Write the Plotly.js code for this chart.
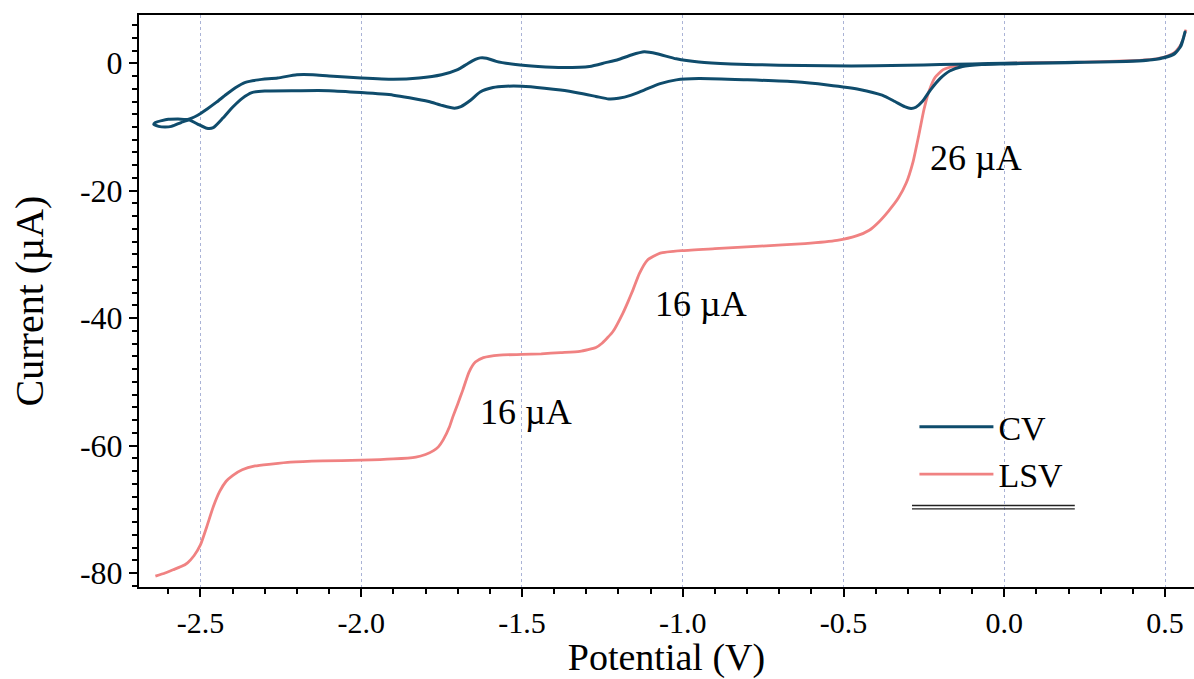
<!DOCTYPE html>
<html>
<head>
<meta charset="utf-8">
<script src="https://cdn.plot.ly/plotly-3.0.1.min.js"></script>
<style>html,body{margin:0;padding:0;background:#fff;}#chart{width:1194px;height:679px;}</style>
</head>
<body>
<div id="chart"></div>
<script>
// CV loop (cathodic sweep right->left, then anodic return left->right)
const cvPotential = [
  0.562,0.555,0.545,0.53,0.51,0.48,0.44,0.38,0.30,0.20,0.10,0.00,-0.07,-0.13,-0.17,-0.20,-0.23,-0.255,-0.275,-0.29,
  -0.31,-0.34,-0.38,-0.45,-0.55,-0.65,-0.80,-0.95,-1.02,-1.07,-1.12,-1.16,-1.20,-1.23,-1.27,-1.32,-1.38,-1.43,-1.50,-1.55,
  -1.59,-1.63,-1.66,-1.69,-1.71,-1.75,-1.79,-1.85,-1.90,-2.00,-2.10,-2.20,-2.30,-2.34,-2.37,-2.40,-2.43,-2.46,-2.48,-2.51,
  -2.535,-2.56,-2.59,-2.61,-2.63,-2.645,
  -2.64,-2.62,-2.60,-2.57,-2.54,-2.51,-2.48,-2.45,-2.42,-2.39,-2.36,-2.32,-2.26,-2.20,-2.15,-2.10,-2.00,-1.90,-1.82,-1.75,
  -1.70,-1.67,-1.645,-1.63,-1.61,-1.58,-1.52,-1.45,-1.37,-1.29,-1.24,-1.20,-1.16,-1.12,-1.08,-1.02,-0.95,-0.85,-0.70,-0.55,
  -0.40,-0.30,-0.20,-0.10,0.00,0.15,0.30,0.40,0.46,0.50,0.53,0.55,0.562
];
const cvCurrent = [
  4.9,3.6,2.4,1.6,1.1,0.7,0.45,0.3,0.2,0.1,0.0,-0.1,-0.2,-0.5,-1.2,-2.4,-4.2,-6.0,-6.9,-7.1,
  -6.8,-6.0,-5.0,-4.1,-3.4,-2.9,-2.6,-2.4,-2.6,-3.2,-4.2,-5.0,-5.5,-5.6,-5.2,-4.7,-4.2,-3.9,-3.6,-3.6,
  -3.8,-4.5,-5.8,-6.8,-7.05,-6.6,-6.0,-5.4,-5.0,-4.6,-4.3,-4.3,-4.35,-4.6,-5.5,-6.9,-8.6,-10.1,-10.2,-9.5,
  -8.9,-9.3,-9.9,-10.0,-9.9,-9.6,
  -9.3,-9.0,-8.8,-8.75,-8.8,-8.2,-7.2,-6.1,-4.9,-3.8,-3.0,-2.6,-2.3,-1.8,-1.8,-2.0,-2.3,-2.5,-2.3,-1.8,
  -1.0,-0.1,0.6,0.85,0.8,0.3,-0.2,-0.5,-0.65,-0.5,0.1,0.6,1.3,1.8,1.5,0.7,0.2,-0.1,-0.3,-0.4,
  -0.4,-0.3,-0.2,-0.1,0.0,0.1,0.2,0.35,0.55,0.9,1.5,2.8,4.9
];
// LSV
const lsvPotential = [
  -2.64,-2.61,-2.585,-2.56,-2.54,-2.52,-2.50,-2.48,-2.46,-2.44,-2.42,-2.40,-2.37,-2.33,-2.28,-2.22,-2.12,-2.00,-1.90,-1.83,
  -1.80,-1.775,-1.76,-1.745,-1.725,-1.715,-1.70,-1.684,-1.665,-1.645,-1.62,-1.57,-1.50,-1.44,-1.38,-1.32,-1.27,-1.25,-1.217,-1.186,
  -1.17,-1.155,-1.135,-1.11,-1.07,-1.00,-0.90,-0.76,-0.62,-0.52,-0.46,-0.42,-0.39,-0.36,-0.33,-0.305,-0.284,-0.264,-0.25,-0.235,
  -0.215,-0.19,-0.15,-0.10,0.00,0.10,0.20,0.30,0.40,0.46,0.50,0.53,0.55,0.565
];
const lsvCurrent = [
  -80.5,-80.0,-79.5,-79.0,-78.4,-77.3,-75.6,-72.7,-69.6,-67.2,-65.6,-64.7,-63.8,-63.2,-62.9,-62.6,-62.4,-62.3,-62.1,-61.8,
  -61.4,-60.8,-60.2,-59.1,-57.0,-55.5,-53.5,-51.3,-48.5,-46.9,-46.2,-45.8,-45.7,-45.6,-45.4,-45.2,-44.6,-43.9,-42.1,-39.2,
  -37.4,-35.6,-33.0,-30.9,-29.8,-29.4,-29.1,-28.7,-28.3,-27.8,-27.1,-26.2,-24.9,-23.2,-21.2,-18.8,-15.5,-10.8,-7.3,-4.5,
  -2.2,-1.0,-0.4,-0.2,0.0,0.1,0.15,0.25,0.4,0.6,1.0,1.7,3.0,5.3
];
const stepLabels = ["26 µA", "16 µA", "16 µA"];
const stepLabelPotential = [-0.088, -0.943, -1.488];
const stepLabelCurrent = [-14.8, -37.8, -54.8];
const xTickVals = [-2.5, -2.0, -1.5, -1.0, -0.5, 0.0, 0.5];
const xTickText = ["-2.5", "-2.0", "-1.5", "-1.0", "-0.5", "0.0", "0.5"];
const yTickVals = [-80, -60, -40, -20, 0];
const yTickText = ["-80", "-60", "-40", "-20", "0"];

const FONT = "Liberation Serif, Times New Roman, serif";

const traces = [
  {x: lsvPotential, y: lsvCurrent, type: "scatter", mode: "lines", name: "LSV",
   line: {color: "#f08282", width: 2.8, shape: "spline", smoothing: 0.5}},
  {x: cvPotential, y: cvCurrent, type: "scatter", mode: "lines", name: "CV",
   line: {color: "#0f4c6c", width: 3, shape: "spline", smoothing: 0.6}}
];

const annotations = stepLabels.map((t, i) => ({
  x: stepLabelPotential[i], y: stepLabelCurrent[i], xref: "x", yref: "y",
  text: t, showarrow: false, font: {family: FONT, size: 36, color: "#000"}
}));

const layout = {
  width: 1194, height: 679,
  margin: {l: 139, r: 0, t: 15, b: 92},
  paper_bgcolor: "#fff", plot_bgcolor: "#fff",
  font: {family: FONT, color: "#000"},
  showlegend: true,
  legend: {x: 0.735, y: 0.33, xanchor: "left", yanchor: "top", traceorder: "reversed",
           font: {family: FONT, size: 34, color: "#000"}, bgcolor: "rgba(0,0,0,0)",
           itemwidth: 74, tracegroupgap: 0},
  xaxis: {
    range: [-2.691, 0.590], tickvals: xTickVals, ticktext: xTickText,
    ticks: "outside", ticklen: 8, tickwidth: 2, tickcolor: "#000",
    showline: true, linecolor: "#000", linewidth: 2, mirror: true,
    showgrid: true, gridcolor: "#aab3d6", gridwidth: 1, griddash: "dot",
    zeroline: false,
    minor: {dtick: 0.1, tick0: 0, ticks: "outside", ticklen: 5, tickwidth: 1.5, tickcolor: "#000", showgrid: false},
    tickfont: {family: FONT, size: 30, color: "#000"},
    title: {text: "Potential (V)", font: {family: FONT, size: 38, color: "#000"}, standoff: 2}
  },
  yaxis: {
    range: [-82.2, 7.58], tickvals: yTickVals, ticktext: yTickText,
    ticks: "outside", ticklen: 8, tickwidth: 2, tickcolor: "#000",
    showline: true, linecolor: "#000", linewidth: 2, mirror: false,
    showgrid: false, zeroline: false,
    minor: {dtick: 2, tick0: 0, ticks: "outside", ticklen: 5, tickwidth: 1.5, tickcolor: "#000", showgrid: false},
    tickfont: {family: FONT, size: 32, color: "#000"},
    title: {text: "Current (µA)", font: {family: FONT, size: 40, color: "#000"}, standoff: 24}
  },
  annotations: annotations,
  shapes: [
    {type: "line", xref: "paper", yref: "paper", x0: 0.7327, x1: 0.887, y0: 0.1425, y1: 0.1425, line: {color: "#222", width: 1.4}},
    {type: "line", xref: "paper", yref: "paper", x0: 0.7327, x1: 0.887, y0: 0.1365, y1: 0.1365, line: {color: "#222", width: 1.4}}
  ]
};

Plotly.newPlot("chart", traces, layout, {displayModeBar: false, responsive: false});
</script>
</body>
</html>
